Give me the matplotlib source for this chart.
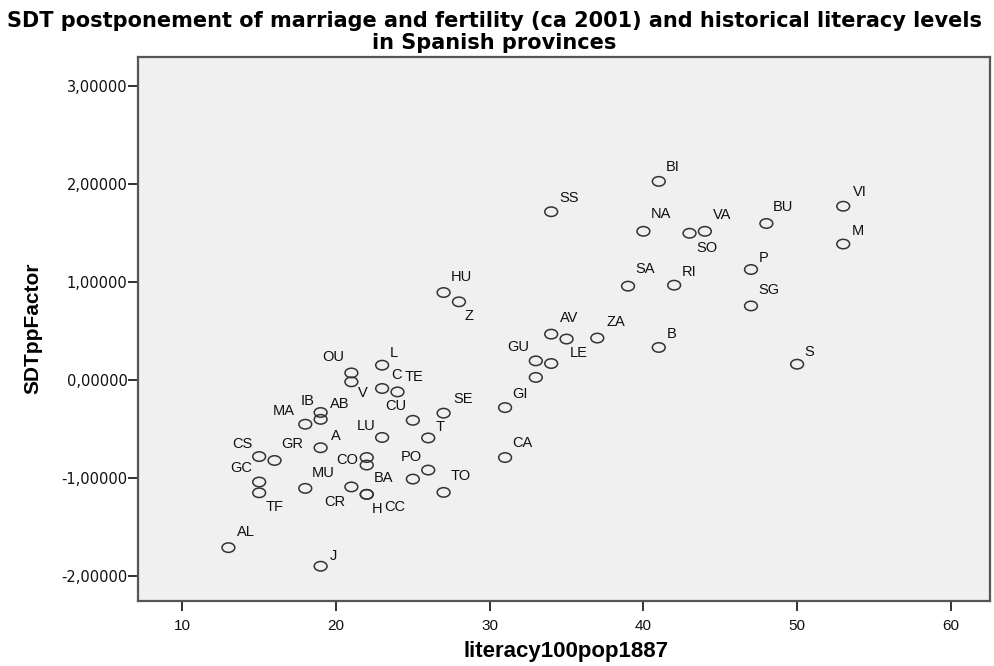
import matplotlib
matplotlib.use("Agg")
import matplotlib.pyplot as plt
from matplotlib.path import Path
from matplotlib.ticker import FuncFormatter, FixedLocator

# ---- data ----
provinces = ["AL", "J", "CS", "GR", "GC", "TF", "MA", "IB", "AB", "A",
             "MU", "OU", "V", "L", "C", "TE", "CU", "LU", "SE", "T",
             "CO", "O", "CR", "H", "CC", "BA", "PO", "TO", "HU", "Z",
             "GU", "", "", "GI", "CA", "AV", "LE", "ZA", "SS", "BI",
             "NA", "SO", "VA", "SA", "RI", "B", "BU", "VI", "M", "P",
             "SG", "S"]
literacy = [13, 19, 15, 16, 15, 15, 18, 19, 19, 19,
            18, 21, 21, 23, 23, 24, 25, 23, 27, 26,
            22, 22, 21, 22, 22, 25, 26, 27, 27, 28,
            33, 34, 33, 31, 31, 34, 35, 37, 34, 41,
            40, 43, 44, 39, 42, 41, 48, 53, 53, 47,
            47, 50]
sdt_factor = [-1.71, -1.90, -0.78, -0.82, -1.04, -1.15, -0.45, -0.33, -0.40, -0.69,
              -1.105, 0.074, -0.017, 0.153, -0.085, -0.12, -0.41, -0.585, -0.337, -0.59,
              -0.79, -0.867, -1.09, -1.166, -1.166, -1.01, -0.918, -1.146, 0.895, 0.80,
              0.197, 0.17, 0.028, -0.28, -0.79, 0.47, 0.42, 0.43, 1.72, 2.03,
              1.52, 1.50, 1.52, 0.96, 0.97, 0.334, 1.60, 1.776, 1.39, 1.13,
              0.758, 0.163]

x_ticks = [10, 20, 30, 40, 50, 60]
y_ticks = [-2, -1, 0, 1, 2, 3]

title = ("SDT postponement of marriage and fertility (ca 2001) and historical literacy levels\n"
         "in Spanish provinces")
x_label = "literacy100pop1887"
y_label = "SDTppFactor"

# label placement (offset from the point, in pixels)
label_offsets = {
    "AL": (17, 16), "J": (13, 10), "CS": (-17, 13), "GR": (18, 16), "GC": (-18, 14),
    "TF": (15, -14), "MA": (-22, 13), "IB": (-13, 11), "AB": (19, 15), "A": (15, 12),
    "MU": (18, 15), "OU": (-18, 16), "V": (11, -11), "L": (12, 12), "C": (14, 13),
    "TE": (17, 15), "CU": (-17, 14), "LU": (-16, 11), "SE": (19, 14), "T": (12, 11),
    "CO": (-20, -2), "CR": (-17, -15), "H": (10, -15), "CC": (28, -13), "BA": (-29, 1),
    "PO": (-17, 13), "TO": (17, 16), "HU": (18, 16), "Z": (10, -14), "GU": (-18, 14),
    "GI": (15, 14), "CA": (17, 15), "AV": (18, 16), "LE": (12, -14), "ZA": (19, 16),
    "SS": (18, 14), "BI": (14, 14), "NA": (18, 17), "VA": (17, 16), "SO": (17, -15),
    "SA": (17, 17), "RI": (15, 13), "B": (13, 13), "BU": (17, 16), "VI": (17, 14),
    "M": (15, 13), "P": (13, 12), "SG": (18, 16), "S": (12, 12),
}

# ---- figure ----
fig = plt.figure(figsize=(9.95, 6.66), dpi=100, facecolor="white")
ax = fig.add_axes([138.5 / 995, 65 / 666, (990 - 138.5) / 995, (601 - 57) / 666])
ax.set_facecolor("#f0f0f0")

circ = Path.unit_circle()
ellipse = Path(circ.vertices * [1.0, 0.74], circ.codes)
ax.scatter(literacy, sdt_factor, marker=ellipse, s=85, facecolors="none",
           edgecolors="#333333", linewidths=1.1, zorder=3)

for name, xv, yv in zip(provinces, literacy, sdt_factor):
    if name in label_offsets:
        dx, dy = label_offsets[name]
        ax.annotate(name, (xv, yv), xytext=(dx, dy), textcoords="offset pixels",
                    ha="center", va="center", fontsize=10.5,
                    family=["Liberation Sans", "DejaVu Sans"], color="#111111")

ax.set_xlim(7.15, 62.55)
ax.set_ylim(-2.255, 3.30)
ax.xaxis.set_major_locator(FixedLocator(x_ticks))
ax.yaxis.set_major_locator(FixedLocator(y_ticks))
ax.yaxis.set_major_formatter(FuncFormatter(lambda v, p: f"{v:.5f}".replace(".", ",")))
ax.xaxis.set_major_formatter(FuncFormatter(lambda v, p: f"{int(v)}"))

for side in ["left", "bottom", "top", "right"]:
    ax.spines[side].set_color("#555555")
    ax.spines[side].set_linewidth(1.6)

ax.tick_params(axis="both", direction="out", length=7, width=1.3, color="#222222")
ax.tick_params(axis="y", pad=1, labelsize=10.5, labelcolor="#111111")
ax.tick_params(axis="x", pad=6, labelsize=11, labelcolor="#111111")
for lab in ax.get_yticklabels():
    lab.set_family(["DejaVu Sans"])
for lab in ax.get_xticklabels():
    lab.set_family(["Liberation Sans Narrow", "Liberation Sans", "DejaVu Sans"])

fig.text(0.497, 1 - 32 / 666, title, ha="center", va="center", fontsize=15,
         fontweight="bold", family=["DejaVu Sans"], linespacing=1.08)
fig.text(566 / 995, 1 - 652 / 666, x_label, ha="center", va="center", fontsize=16,
         fontweight="bold", family=["Liberation Sans Narrow", "Liberation Sans", "DejaVu Sans"])
fig.text(33 / 995, 1 - 328 / 666, y_label, ha="center", va="center", rotation=90,
         fontsize=15, fontweight="bold", family=["Liberation Sans", "DejaVu Sans"])

fig.savefig("out.png", dpi=100, facecolor="white")
